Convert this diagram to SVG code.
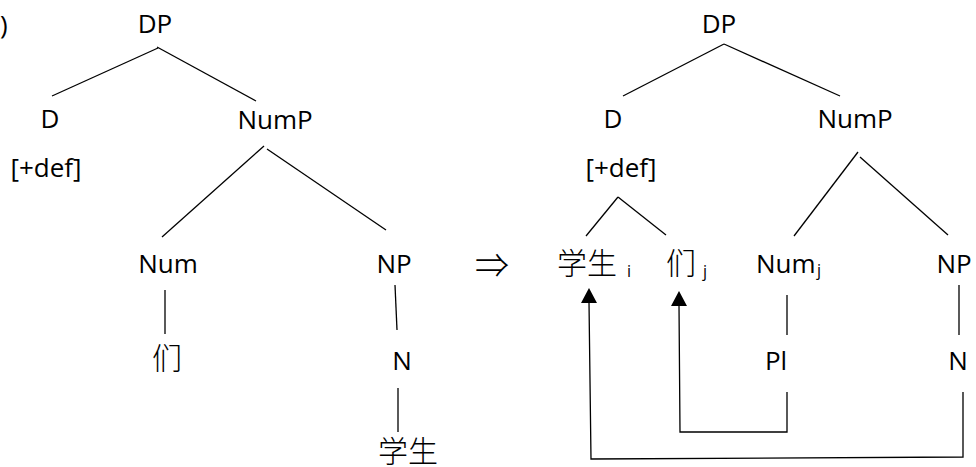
<svg xmlns="http://www.w3.org/2000/svg" width="976" height="467" viewBox="0 0 976 467">
<defs>
<style>
text{font-family:"Open Sans","Noto Sans CJK SC",sans-serif;font-size:26px;fill:#000}
.m{text-anchor:middle}
.cjk{font-family:"Noto Sans CJK SC","Noto Sans",sans-serif;font-size:30px;font-weight:300}
.sub{font-size:16px}
.ln{stroke:#000;stroke-width:1.3;fill:none}
</style>
</defs>
<rect width="976" height="467" fill="#fff"/>
<text x="0" y="34">)</text>
<g id="connectors">
<line class="ln" x1="158" y1="48" x2="52" y2="96"/>
<line class="ln" x1="157" y1="47" x2="256" y2="101"/>
<line class="ln" x1="264" y1="146" x2="162" y2="237"/>
<line class="ln" x1="267" y1="149" x2="386" y2="230"/>
<line class="ln" x1="165" y1="290" x2="165" y2="334"/>
<line class="ln" x1="395" y1="285" x2="397" y2="330"/>
<line class="ln" x1="398" y1="388" x2="398" y2="432"/>
<line class="ln" x1="724" y1="44" x2="623" y2="96"/>
<line class="ln" x1="724" y1="44" x2="840" y2="96"/>
<line class="ln" x1="618" y1="197" x2="586" y2="236"/>
<line class="ln" x1="618" y1="197" x2="666" y2="235"/>
<line class="ln" x1="858" y1="152" x2="794" y2="236"/>
<line class="ln" x1="860" y1="157" x2="948" y2="235"/>
<line class="ln" x1="787" y1="295" x2="787" y2="335"/>
<line class="ln" x1="959" y1="285" x2="959" y2="335"/>
<polyline class="ln" points="787,392 787,432 680,432 679,305"/>
<polyline class="ln" points="963,392 963,457 591,459 589,302"/>
<path d="M671,306 L679,291 L687,306 Z" fill="#000"/>
<path d="M581,303 L589,288 L597,303 Z" fill="#000"/>
</g>
<g id="l-DP"><text class="m" x="155" y="33">DP</text></g>
<g id="l-D"><text class="m" x="50" y="128">D</text><text class="m" x="46" y="177">[+def]</text></g>
<g id="l-NumP"><text class="m" x="275" y="129">NumP</text></g>
<g id="l-Num"><text class="m" x="168" y="273">Num</text></g>
<g id="l-NP"><text class="m" x="394" y="273">NP</text></g>
<g id="l-men"><text class="m cjk" x="167" y="369">们</text></g>
<g id="l-N"><text class="m" x="402" y="370">N</text></g>
<g id="l-xuesheng"><text class="m cjk" x="408" y="462">学生</text></g>
<g id="arrow"><text class="m cjk" x="492" y="278" style="font-size:34px;font-weight:300">⇒</text></g>
<g id="r-DP"><text class="m" x="719" y="33">DP</text></g>
<g id="r-D"><text class="m" x="613" y="128">D</text><text class="m" x="621" y="177">[+def]</text></g>
<g id="r-NumP"><text class="m" x="855" y="128">NumP</text></g>
<g id="r-xuesheng"><text class="m cjk" x="587" y="274">学生</text><text class="sub" x="627" y="277">i</text></g>
<g id="r-men"><text class="m cjk" x="681" y="274">们</text><text class="sub" x="703" y="277">j</text></g>
<g id="r-Num"><text x="756" y="273">Num</text><text class="sub" x="817" y="276">j</text></g>
<g id="r-NP"><text class="m" x="954" y="273">NP</text></g>
<g id="r-Pl"><text class="m" x="776" y="370">Pl</text></g>
<g id="r-N"><text class="m" x="958" y="370">N</text></g>
</svg>
